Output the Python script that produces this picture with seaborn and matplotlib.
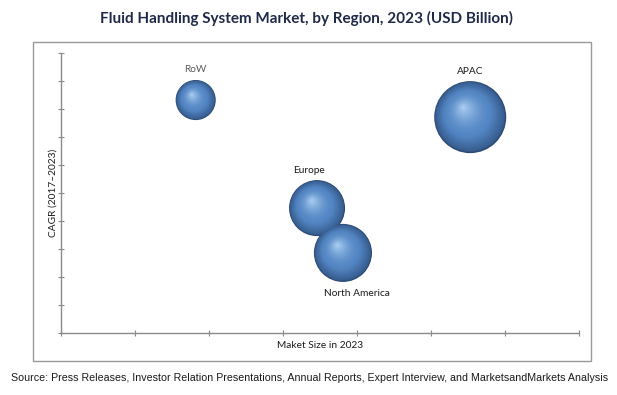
"""
Bubble chart: Fluid Handling System Market, by Region, 2023
"""

import numpy as np
import pandas as pd
import matplotlib
matplotlib.use('Agg')
import matplotlib.pyplot as plt
import matplotlib.transforms as mtransforms
from matplotlib.colors import to_rgb
from matplotlib.patches import Rectangle
import seaborn as sns

# Data (axis units are arbitrary)
regions = ['RoW', 'APAC', 'Europe', 'North America']
market_size = [1.82, 5.53, 3.46, 3.81]
cagr = [8.32, 7.71, 4.46, 2.86]
bubble = [3.1, 10.0, 6.05, 6.5]
label_pos = ['above', 'above', 'above', 'below']

df = pd.DataFrame({'region': regions, 'market': market_size,
                   'cagr': cagr, 'bubble': bubble})

sns.set_style('white')
plt.rcParams['font.family'] = ['Lato', 'DejaVu Sans']

fig = plt.figure(figsize=(6.17, 3.95), dpi=100)
ax = fig.add_axes([0.0989, 0.157, 0.8395, 0.7088])

# outer frame
fig.patches.append(Rectangle((33 / 617, 1 - 361 / 395), 558 / 617, 319 / 395,
                             transform=fig.transFigure, fill=False,
                             edgecolor='#9a9a9a', linewidth=1.0))

max_s = 2690
base = np.array(to_rgb('#34598a'))
mid = np.array(to_rgb('#5386c4'))
light = np.array(to_rgb('#b0d3f5'))

sns.scatterplot(data=df, x='market', y='cagr', size='bubble',
                sizes=(0, max_s), size_norm=(0, max(bubble)),
                color='#2c4a74', edgecolor='none', legend=False, ax=ax, zorder=2)

# fake sphere shading: stacked discs shrinking towards upper-left highlight
n_layers = 30
for i in range(1, n_layers):
    t = i / n_layers
    if t < 0.35:
        c = base + (mid - base) * (t / 0.35)
    else:
        c = mid + (light - mid) * ((t - 0.35) / 0.65) ** 1.6
    for xv, yv, bv in zip(market_size, cagr, bubble):
        s = max_s * bv / max(bubble)
        r_pt = np.sqrt(s) / 2
        scale = (1 - t) ** 1.0
        dx = -0.20 * r_pt * t
        dy = 0.28 * r_pt * t
        tr = mtransforms.offset_copy(ax.transData, fig=fig, x=dx, y=dy, units='points')
        ax.scatter([xv], [yv], s=s * scale ** 2, color=c, edgecolor='none',
                   transform=tr, zorder=3 + i)

# region labels
for name, xv, yv, bv, pos in zip(regions, market_size, cagr, bubble, label_pos):
    r_pt = np.sqrt(max_s * bv / max(bubble)) / 2
    off = r_pt + 4 if pos == 'above' else -(r_pt + 5)
    va = 'bottom' if pos == 'above' else 'top'
    col = '#5a5a5a' if name == 'RoW' else '#1a1a1a'
    dx = -6 if name == 'Europe' else (10 if name == 'North America' else 0)
    ax.annotate(name, (xv, yv), xytext=(dx, off), textcoords='offset points',
                ha='center', va=va, fontsize=7.3, color=col, zorder=100)

ax.set_xlim(0, 7)
ax.set_ylim(0, 10)
ax.set_xticks(np.arange(0, 8))
ax.set_yticks(np.arange(0, 11))
ax.set_xticklabels([])
ax.set_yticklabels([])
ax.tick_params(direction='inout', length=4, width=0.8, color='#8a8a8a',
               bottom=True, left=True)
for side in ['top', 'right']:
    ax.spines[side].set_visible(False)
for side in ['left', 'bottom']:
    ax.spines[side].set_color('#8a8a8a')
    ax.spines[side].set_linewidth(1.0)

ax.set_xlabel('Maket Size in 2023', fontsize=7.3, color='#1a1a1a', labelpad=0)
ax.set_ylabel('CAGR (2017\u20132023)', fontsize=7.3, color='#1a1a1a', labelpad=-3)

fig.text(0.497, 1 - 18 / 395, 'Fluid Handling System Market, by Region, 2023 (USD Billion)',
         ha='center', va='center', fontsize=11, fontweight='bold', color='#1f2a48')
fig.text(0.502, 1 - 378 / 395,
         'Source: Press Releases, Investor Relation Presentations, Annual Reports, '
         'Expert Interview, and MarketsandMarkets Analysis',
         ha='center', va='center', fontsize=7.7, color='#1a1a1a',
         family=['Liberation Sans', 'DejaVu Sans'])

plt.savefig('out.png', dpi=100)
plt.close()
